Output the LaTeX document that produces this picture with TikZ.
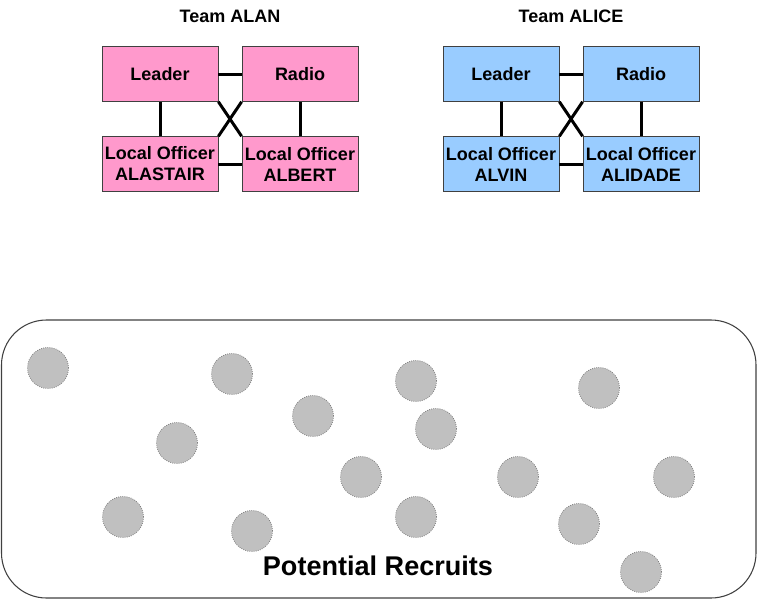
\documentclass[tikz,border=0pt]{standalone}
\usepackage{fontspec}
\setmainfont{Liberation Sans}
\definecolor{alanpink}{HTML}{FF99CC}
\definecolor{aliceblue}{HTML}{99CCFF}
\definecolor{recruitgray}{HTML}{C0C0C0}
\definecolor{edge}{HTML}{404040}
\tikzset{
  every node/.style={font=\fontsize{13.5}{15.75}\selectfont\bfseries},
  rolebox/.style={draw=edge,line width=.6pt,minimum width=87pt,minimum height=41pt,
    inner sep=0pt,align=center},
  link/.style={draw=black,line width=2.25pt},
  recruit/.style={circle,fill=recruitgray,draw=gray,densely dotted,line width=.6pt,
    minimum size=30.75pt,inner sep=0pt},
  pool/.style={draw=edge,line width=.8pt,rounded corners=33.75pt}}

\begin{document}
\begin{tikzpicture}[x=.75pt,y=-.75pt]
\useasboundingbox (0,0) rectangle (757,600);
% two teams of four
\foreach \tm/\dx/\col/\title/\loa/\lob in {alan/0/alanpink/ALAN/ALASTAIR/ALBERT,
    alice/341/aliceblue/ALICE/ALVIN/ALIDADE} {
  \node (\tm title) at (230+\dx,16) {Team \title};
  \node[rolebox,fill=\col] (\tm lead) at (160+\dx,74) {Leader};
  \node[rolebox,fill=\col] (\tm radio) at (300+\dx,74) {Radio};
  \node[rolebox,fill=\col] (\tm loa) at (160+\dx,164) {Local Officer\\\loa};
  \node[rolebox,fill=\col] (\tm lob) at (300+\dx,164) {Local Officer\\\lob};
  \draw[link] (\tm lead) -- (\tm radio);
  \draw[link] (\tm loa) -- (\tm lob);
  \draw[link] (\tm lead) -- (\tm loa);
  \draw[link] (\tm radio) -- (\tm lob);
  \draw[link] (\tm lead.south east) -- (\tm lob.north west);
  \draw[link] (\tm radio.south west) -- (\tm loa.north east);
}
% pool of recruits
\draw[pool] (1.5,320) rectangle (756,598);
\foreach \x/\y [count=\i] in {48/368,232/374,416/381,599/388,313/416,177/443,436/429,
    361/477,518/477,674/477,123/517,252/531,416/517,579/524,641/572}
  \node[recruit] (r\i) at (\x,\y) {};
\node[font=\fontsize{20.3}{24}\selectfont\bfseries] (pooltitle) at (378,566) {Potential Recruits};
\end{tikzpicture}
\end{document}
